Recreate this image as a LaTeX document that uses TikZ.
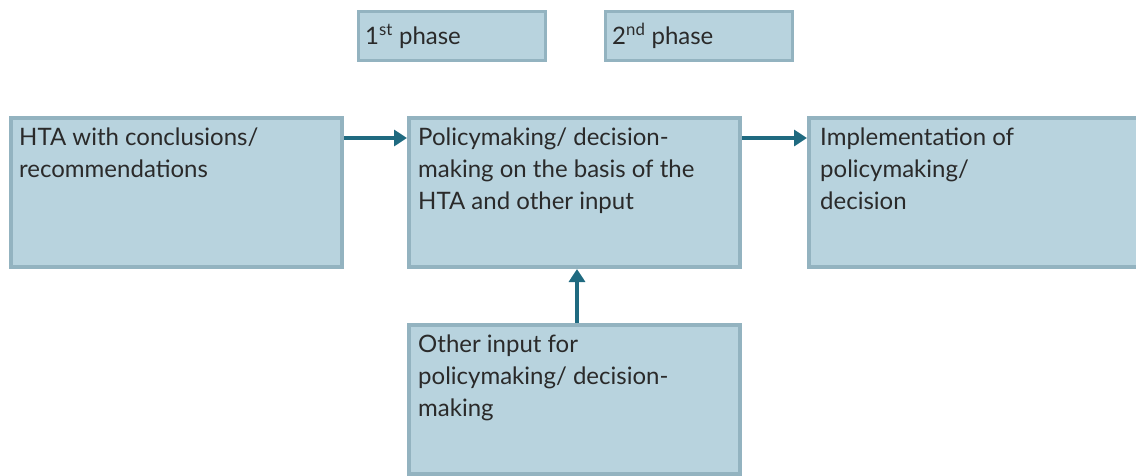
\documentclass[tikz,border=0pt]{standalone}
\usepackage{fontspec}
\setmainfont{Lato}
\usetikzlibrary{arrows.meta}
\definecolor{boxfill}{HTML}{B8D3DE}
\definecolor{boxedge}{HTML}{93B3C0}
\definecolor{flow}{HTML}{1F6A80}
\definecolor{ink}{HTML}{2A2A2A}
\tikzset{
  stage/.style={draw=boxedge, fill=boxfill, line width=4pt, minimum width=331pt, minimum height=149pt, inner sep=0pt},
  phasebox/.style={draw=boxedge, fill=boxfill, line width=2.5pt, minimum width=187pt, minimum height=49pt, inner sep=0pt},
  label/.style={anchor=north west, align=left, inner sep=0pt, text=ink, font=\fontsize{24pt}{32pt}\selectfont},
  flowarrow/.style={draw=flow, line width=3.5pt, -{Triangle[length=13pt,width=16pt]}}
}
\begin{document}
\begin{tikzpicture}[x=1pt,y=-1pt]
  \clip (0,0) rectangle (1136,475);

  % phase legend
  \node[phasebox] (ph1) at (452,36) {};
  \node[phasebox] (ph2) at (699,36) {};
  \node[label, anchor=west] (ph1t) at (365,36) {1\textsuperscript{st} phase};
  \node[label, anchor=west] (ph2t) at (612,36) {2\textsuperscript{nd} phase};

  % stage boxes
  \node[stage] (hta)  at (176.5,192.5) {};
  \node[stage] (pol)  at (574.5,192.5) {};
  \node[stage] (impl) at (974.5,192.5) {};
  \node[stage] (oth)  at (574.5,399.5) {};

  \node[label] (htat) at (19,128) {HTA with conclusions/\\recommendations};
  \node[label] (polt) at (418,128) {Policymaking/ decision-\\making on the basis of the\\HTA and other input};
  \node[label] (implt) at (820,128) {Implementation of\\policymaking/\\decision};
  \node[label] (otht) at (418,335) {Other input for\\policymaking/ decision-\\making};

  % connectors
  \draw[flowarrow] ([yshift=-22pt]hta.north east) -- ([yshift=-22pt]pol.north west);
  \draw[flowarrow] ([yshift=-22pt]pol.north east) -- ([yshift=-22pt]impl.north west);
  \draw[flowarrow] ([xshift=2.5pt]oth.north) -- ([xshift=2.5pt]pol.south);
\end{tikzpicture}
\end{document}
